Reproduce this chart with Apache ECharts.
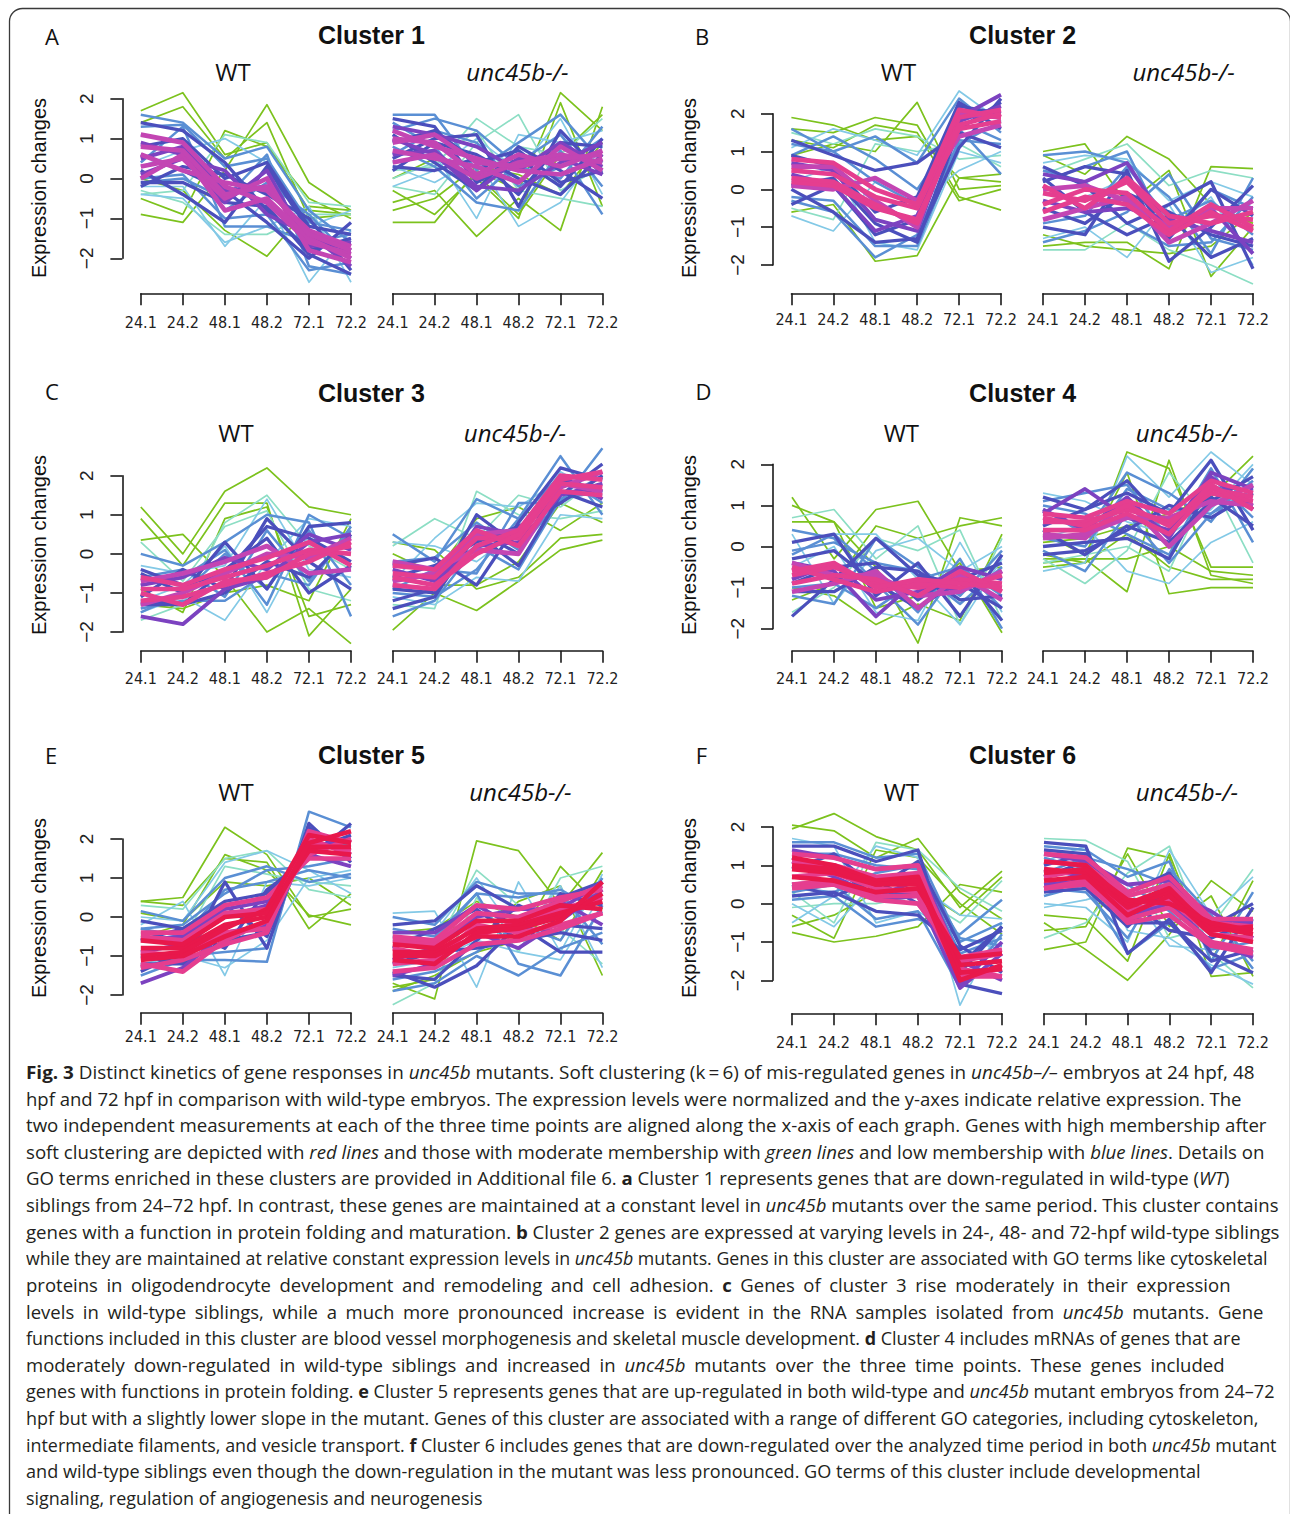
<!DOCTYPE html>
<html><head><meta charset="utf-8">
<script src="https://cdn.jsdelivr.net/npm/echarts@6/dist/echarts.min.js"></script>
<style>
html,body{margin:0;padding:0;background:#fff;}
#chart{position:absolute;left:0;top:0;width:1290px;height:1514px;}
#caption{position:absolute;left:0;top:0;width:1290px;height:1514px;pointer-events:none;font-family:"Open Sans","Noto Sans",sans-serif;font-size:17.5px;color:#231f20;}
.cl{position:absolute;left:25.5px;white-space:nowrap;transform-origin:0 50%;line-height:20px;}
.cl b{font-weight:700;}
</style></head><body>
<div id="chart"></div><div id="caption"></div>
<script>
// ---------------- DATA ----------------
const timePoints = ["24.1", "24.2", "48.1", "48.2", "72.1", "72.2"];
const clusterNames = ["Cluster 1", "Cluster 2", "Cluster 3", "Cluster 4", "Cluster 5", "Cluster 6"];
const panelLetters = ["A", "B", "C", "D", "E", "F"];
const conditionNames = ["WT", "unc45b-/-"];

// each row: [membership, 24.1, 24.2, 48.1, 48.2, 72.1, 72.2]
const cluster1WT = [
  [0.1, 1.7, 2.15, 0.6, 0.9, -0.8, -0.9],
  [0.1, -0.9, -1.1, 0.2, 1.85, -0.1, -0.8],
  [0.1, -0.5, -0.9, 1.2, 0.8, -0.5, -1.0],
  [0.1, 0.0, -0.3, -1.3, -1.95, -0.7, -0.8],
  [0.1, 1.4, 1.8, 0.5, 1.4, -1.0, -0.9],
  [0.25, -0.4, -0.3, 1.1, 0.9, -0.6, -0.7],
  [0.25, -0.3, -0.6, -1.4, -1.4, -0.9, -0.9],
  [0.35, -0.2, -0.2, -1.7, -0.5, -2.6, -1.3],
  [0.35, 0.3, 0.7, 1.0, 0.4, -1.2, -0.8],
  [0.35, -0.4, -0.5, -1.6, -1.2, -0.7, -2.6],
  [0.45, 1.6, 1.4, 0.5, 0.8, -0.8, -1.6],
  [0.45, 0.4, 1.3, -1.2, -1.2, -1.6, -1.4],
  [0.45, -0.1, 0.0, -0.5, 0.6, -2.2, -2.4],
  [0.45, 1.1, 0.9, -0.8, -0.1, -0.9, -2.0],
  [0.45, 1.3, 1.35, 0.3, 0.5, -1.1, -1.3],
  [0.45, 0.0, 0.1, -1.0, -0.9, -2.3, -2.1],
  [0.55, 0.2, -0.4, -1.1, 0.3, -1.3, -1.8],
  [0.55, 1.4, 1.2, 0.4, -0.8, -1.8, -1.5],
  [0.55, 0.6, 0.2, -0.3, -1.1, -2.0, -1.1],
  [0.55, -0.2, 0.3, 0.1, -0.4, -1.0, -2.3],
  [0.55, 0.8, 1.0, 0.0, 0.4, -1.2, -1.4],
  [0.55, -0.1, -0.1, -0.6, -0.7, -1.9, -2.4],
  [0.65, 0.9, 0.6, -0.6, 0.2, -1.7, -1.6],
  [0.65, 0.1, 0.5, 0.2, -0.9, -1.4, -2.2],
  [0.65, 0.5, 0.8, -0.3, -0.2, -1.5, -1.8],
  [0.75, 1.1, 0.9, -0.2, -0.6, -1.6, -1.9],
  [0.75, 0.3, 0.5, -0.5, 0.0, -1.8, -2.1],
  [0.75, 0.6, 0.2, -0.1, -0.3, -1.3, -1.7],
  [0.75, 0.0, 0.6, -0.8, -0.5, -1.5, -2.0],
  [0.75, 0.8, 0.7, -0.4, -0.2, -1.4, -1.8]
];
const cluster1Mut = [
  [0.1, -1.1, -1.1, 0.2, -0.3, 2.15, 1.2],
  [0.1, -0.6, -0.3, -1.45, -0.5, -1.3, 1.8],
  [0.1, -0.3, -0.9, 0.1, -0.9, 0.6, 1.6],
  [0.1, 0.0, 0.5, 0.0, -1.0, 1.9, -0.7],
  [0.1, -0.8, -0.5, 0.3, 0.1, -0.4, 0.9],
  [0.25, 0.2, 0.3, 1.5, 0.8, 0.6, 1.5],
  [0.25, -0.2, -0.4, 0.9, 1.6, -0.3, 0.3],
  [0.25, 0.0, 0.4, 1.2, -0.3, -0.5, -0.7],
  [0.35, 0.4, 0.6, -1.0, 1.1, 0.9, 1.2],
  [0.35, 0.3, -0.1, 0.5, -1.2, -0.6, 0.8],
  [0.35, -0.2, 0.2, 1.0, 0.2, 1.5, -0.4],
  [0.45, 1.6, 1.6, 0.2, 0.9, 1.6, 0.4],
  [0.45, 0.8, 0.3, -0.6, -0.8, 0.7, -0.9],
  [0.45, 1.2, 1.5, 1.2, 0.3, 0.0, 1.3],
  [0.45, 0.6, 1.2, 0.9, -0.2, 0.3, 1.0],
  [0.45, 1.4, 0.8, -0.5, 0.4, 1.1, -0.2],
  [0.55, 1.5, 1.3, -0.1, 0.5, -0.2, 1.0],
  [0.55, 0.5, 1.0, 1.1, -0.7, 1.2, 0.1],
  [0.55, 1.1, 0.4, -0.3, 0.8, 0.2, -0.5],
  [0.55, 0.2, 0.9, 0.6, 0.0, -0.4, 0.6],
  [0.55, 0.9, 1.2, 0.4, 0.7, -0.1, 0.2],
  [0.55, 0.3, 0.2, 0.5, -0.4, 0.9, 0.8],
  [0.65, 1.3, 1.1, 0.8, 0.2, 0.9, 0.3],
  [0.65, 0.6, 0.7, -0.2, -0.3, 0.4, 0.9],
  [0.65, 1.0, 0.6, -0.3, 0.5, 0.5, 0.1],
  [0.75, 1.0, 0.9, 0.1, 0.6, 0.3, 0.7],
  [0.75, 0.7, 0.5, 0.3, -0.1, 0.8, 0.2],
  [0.75, 1.2, 0.8, 0.5, 0.2, 0.1, 0.5],
  [0.75, 0.4, 0.6, 0.0, 0.4, 0.6, 0.4],
  [0.75, 0.9, 1.1, 0.4, 0.3, 0.5, 0.6]
];
const cluster2WT = [
  [0.1, 1.9, 1.7, 1.3, 1.4, 0.3, 0.2],
  [0.1, 1.6, 1.5, 1.9, 1.7, -0.2, -0.55],
  [0.1, 0.9, 1.2, 1.0, 2.3, 0.0, 0.1],
  [0.1, -0.6, -0.4, -1.9, -1.75, 0.3, 0.4],
  [0.1, 1.3, 1.1, 1.7, 1.5, -0.3, 0.0],
  [0.25, 1.5, 1.2, 1.6, 1.4, 0.8, 0.9],
  [0.25, -0.5, -0.8, 1.2, 1.0, 1.2, 0.6],
  [0.35, -0.7, -1.1, 0.2, -0.4, 0.5, 1.0],
  [0.35, 1.1, 1.6, 1.3, 0.9, 2.6, 1.8],
  [0.35, 0.2, 0.6, -1.4, -1.6, 1.0, 0.7],
  [0.45, 1.6, 1.0, 1.4, 0.7, 2.4, 1.5],
  [0.45, -0.3, -0.6, -1.8, -1.2, 1.3, 1.2],
  [0.45, 0.9, 1.4, 0.8, 0.0, 1.6, 0.4],
  [0.45, 1.2, 1.0, 0.2, -0.4, 1.8, 1.3],
  [0.45, -0.2, -0.3, -1.5, -1.5, 1.2, 1.8],
  [0.55, 0.0, -0.6, -1.4, -1.3, 1.1, 2.4],
  [0.55, 1.3, 0.9, 0.5, 0.7, 1.5, 1.1],
  [0.55, -0.4, 0.1, -1.2, -0.8, 2.2, 2.0],
  [0.55, 0.9, 0.6, -0.6, -0.2, 2.3, 1.6],
  [0.55, 0.1, 0.3, -0.9, -1.4, 1.6, 2.3],
  [0.65, 0.7, 0.5, -0.8, -1.1, 1.9, 2.5],
  [0.65, 0.4, 0.1, -1.1, -0.7, 1.8, 2.2],
  [0.75, 0.1, 0.0, 0.3, -0.3, 1.4, 1.7],
  [0.75, 0.6, 0.6, -0.3, -1.0, 2.0, 1.9],
  [0.85, 0.5, 0.4, -0.2, -0.5, 1.9, 2.1],
  [0.85, 0.2, 0.1, -0.5, -0.8, 1.6, 1.8],
  [0.85, 0.8, 0.7, 0.0, -0.4, 2.1, 1.9],
  [0.85, 0.3, 0.2, -0.4, -0.9, 1.7, 2.0]
];
const cluster2Mut = [
  [0.1, 1.0, 1.2, -0.4, 0.5, -2.3, -1.0],
  [0.1, -1.5, -1.4, -1.4, -2.1, 0.6, 0.55],
  [0.1, 0.9, 0.4, 1.4, 0.8, -0.4, -0.9],
  [0.1, -1.2, -1.5, -1.6, -1.7, -1.5, -0.6],
  [0.25, -1.6, -1.6, -0.9, -1.6, -2.0, -2.5],
  [0.25, 0.4, 0.8, 1.2, 0.1, 0.5, 0.3],
  [0.35, -1.3, -1.0, -1.8, -0.4, -2.2, -1.8],
  [0.35, 0.7, 0.9, 0.8, -0.3, 0.2, -0.2],
  [0.35, -0.6, -0.2, 0.3, -1.1, -0.2, -2.0],
  [0.45, 0.9, 1.0, 0.7, -0.2, -1.7, 0.3],
  [0.45, -1.4, -1.1, -0.6, 0.4, -1.3, -1.6],
  [0.45, 0.2, 0.6, 1.0, -1.2, 0.0, -0.5],
  [0.45, -0.9, -0.7, 0.6, -0.8, -0.3, -1.2],
  [0.45, 0.5, 0.2, -0.9, -1.5, -1.4, -0.2],
  [0.55, 0.6, 0.1, -0.9, -0.4, 0.2, -2.1],
  [0.55, -1.0, -1.2, 0.5, -1.9, -1.0, 0.1],
  [0.55, 0.3, -0.6, -1.2, -0.7, -1.8, -1.3],
  [0.55, -0.5, -0.9, -0.1, -0.6, -1.2, -1.5],
  [0.55, 0.2, 0.6, 0.4, -1.3, 0.0, -0.7],
  [0.65, 0.4, 0.2, 0.7, -1.0, -0.5, -1.7],
  [0.65, -0.3, -0.6, -0.5, -0.8, -1.1, -1.4],
  [0.75, -0.8, -0.5, -0.2, -1.4, -0.9, -0.3],
  [0.75, 0.0, 0.1, -0.3, -1.0, -0.5, -0.5],
  [0.85, -0.1, -0.3, 0.2, -0.9, -0.7, -0.8],
  [0.85, -0.4, 0.0, -0.1, -1.1, -0.4, -1.0],
  [0.85, 0.1, -0.5, 0.3, -0.7, -0.9, -0.6],
  [0.85, -0.6, -0.2, -0.4, -1.2, -0.6, -1.1]
];
const cluster3WT = [
  [0.1, 1.2, 0.0, 1.6, 2.2, 1.2, 1.0],
  [0.1, 0.9, -0.3, 1.3, 1.3, -2.1, -0.9],
  [0.1, 0.35, 0.5, -0.6, -2.0, -1.4, -2.3],
  [0.1, -0.9, -1.5, 0.9, 1.2, -1.6, -1.3],
  [0.1, -1.3, -1.4, -1.0, -0.8, -1.2, 0.9],
  [0.25, -1.7, -1.3, 0.8, 1.5, 0.2, -0.4],
  [0.25, 0.3, -0.7, 0.7, 1.1, -0.9, -1.2],
  [0.35, -1.5, -1.1, -1.7, -0.2, 0.9, 0.7],
  [0.35, -0.3, -0.5, -0.3, 1.4, -0.4, -0.6],
  [0.35, -1.2, -0.8, 0.2, -1.5, 0.5, 0.1],
  [0.45, 0.0, -0.3, 0.3, 1.0, 0.8, -1.6],
  [0.45, -1.4, -1.2, -1.2, -0.5, -0.8, 0.7],
  [0.45, -0.8, -0.6, 0.1, -1.3, 1.0, 0.4],
  [0.45, -0.6, -0.4, -1.1, 0.6, -0.7, 0.6],
  [0.45, -1.5, -1.0, 0.0, -0.9, 0.6, -0.8],
  [0.55, -1.1, -0.4, -0.9, 0.9, -0.2, -0.9],
  [0.55, -0.5, -1.0, 0.3, -0.9, 0.7, 0.8],
  [0.55, -1.3, -1.3, -0.4, 0.4, -1.0, -0.3],
  [0.55, -0.4, -0.8, -0.5, 0.7, 0.4, -0.2],
  [0.55, -1.2, -1.3, -1.0, -0.2, -0.6, 0.5],
  [0.65, -1.6, -1.8, -0.9, -0.6, 0.3, 0.5],
  [0.65, -0.8, -0.6, -0.1, -0.4, 0.5, 0.1],
  [0.75, -0.7, -0.5, -0.2, 0.2, -0.5, -0.4],
  [0.75, -1.3, -1.0, -0.5, 0.0, -0.1, 0.4],
  [0.85, -0.9, -0.9, -0.6, -0.3, 0.1, 0.0],
  [0.85, -1.2, -1.1, -0.8, -0.5, -0.2, 0.3],
  [0.85, -0.6, -0.8, -0.4, -0.1, 0.3, -0.3],
  [0.85, -1.0, -1.3, -0.7, -0.6, 0.0, 0.2]
];
const cluster3Mut = [
  [0.1, -1.95, -1.0, -1.45, -0.7, 0.1, 0.35],
  [0.1, 0.3, 0.1, -0.9, -0.6, 0.4, 0.5],
  [0.1, -0.6, -0.8, -0.8, -0.2, 1.3, 0.8],
  [0.1, 0.0, -0.5, 0.9, 1.2, 0.6, 1.3],
  [0.25, 0.2, 0.9, 0.4, 1.5, 1.2, 2.0],
  [0.25, -1.3, -1.4, 1.6, 1.0, 0.9, 1.1],
  [0.35, -0.7, 0.4, 1.3, 1.2, 1.9, 1.4],
  [0.35, -1.1, -1.3, -0.6, -0.7, 1.0, 0.9],
  [0.35, 0.3, 0.2, -0.2, 0.6, 2.1, 1.5],
  [0.45, -1.6, -1.2, 0.2, -0.4, 1.4, 2.0],
  [0.45, 0.5, -0.2, 1.4, 0.9, 2.5, 1.0],
  [0.45, -0.9, -0.4, -0.5, 1.3, 1.3, 2.7],
  [0.45, -0.2, -0.1, 0.8, 0.1, 1.4, 1.6],
  [0.45, -1.0, -1.1, -0.4, 0.9, 2.0, 1.3],
  [0.55, -1.2, -0.9, 1.0, 0.2, 1.6, 1.2],
  [0.55, -0.3, -0.1, -0.8, 0.8, 2.2, 1.9],
  [0.55, -1.4, -1.1, 0.5, -0.3, 1.5, 2.3],
  [0.55, -0.6, -0.3, 0.3, 0.7, 1.3, 2.0],
  [0.55, -0.9, -1.0, 0.6, 0.0, 1.9, 1.6],
  [0.65, -0.8, -0.9, 0.7, 0.5, 2.0, 1.4],
  [0.65, -0.4, -0.7, 0.2, 0.3, 1.5, 1.8],
  [0.75, -0.2, -0.4, 0.1, 0.0, 1.7, 2.1],
  [0.75, -0.7, -0.5, 0.5, 0.6, 1.8, 1.6],
  [0.85, -0.5, -0.6, 0.4, 0.4, 1.8, 1.7],
  [0.85, -0.8, -0.9, 0.2, 0.6, 2.0, 1.9],
  [0.85, -0.3, -0.4, 0.6, 0.2, 1.6, 1.5],
  [0.85, -0.6, -0.8, 0.0, 0.5, 1.9, 2.1]
];
const cluster4WT = [
  [0.1, 1.2, -0.3, 0.9, 1.1, -0.6, -0.5],
  [0.1, 1.0, 0.6, -0.5, -2.35, 0.7, 0.5],
  [0.1, -1.3, -0.9, 0.5, 0.2, 0.5, 0.7],
  [0.1, 0.6, 0.6, -1.5, -1.2, -0.4, -2.1],
  [0.1, -1.0, -1.2, -1.9, -1.4, -1.8, 0.3],
  [0.25, 0.7, 0.9, -0.3, 0.5, -1.9, 0.2],
  [0.25, -1.6, -1.0, 0.2, -0.1, 0.4, -1.8],
  [0.35, 0.3, -1.4, -0.1, 0.2, -0.6, 0.0],
  [0.35, -0.5, 0.0, -1.6, -1.8, 0.1, -1.6],
  [0.35, 0.1, 0.3, 0.3, -0.8, -1.9, -0.3],
  [0.45, 0.4, 0.2, -0.9, -1.9, -0.5, -1.2],
  [0.45, -1.2, -1.4, 0.2, -0.5, -1.2, -0.1],
  [0.45, -0.2, 0.3, -0.6, -1.6, -0.3, -2.0],
  [0.45, -0.1, 0.1, -0.4, -0.6, -1.4, -0.5],
  [0.45, -1.0, -0.9, -1.5, -0.8, -0.5, -1.5],
  [0.55, -1.7, -0.8, 0.2, -0.7, -0.9, -1.5],
  [0.55, 0.1, 0.3, -1.2, -0.4, -1.7, -0.2],
  [0.55, -0.9, -0.5, -0.4, -1.3, -0.6, -1.8],
  [0.55, -0.3, -0.1, -0.9, -1.5, -0.8, -0.4],
  [0.55, -1.1, -1.1, -0.5, -0.6, -1.3, -1.2],
  [0.65, -0.4, -0.6, -1.7, -0.8, -1.1, -0.6],
  [0.65, -0.8, -0.4, -1.3, -1.1, -0.5, -0.8],
  [0.75, -1.1, -0.9, -0.6, -1.5, -0.7, -1.3],
  [0.75, -0.4, -0.7, -0.7, -1.2, -1.1, -0.6],
  [0.85, -0.7, -0.5, -0.9, -1.0, -0.8, -0.9],
  [0.85, -0.5, -0.8, -1.1, -0.9, -1.0, -0.7],
  [0.85, -0.9, -0.7, -0.8, -1.2, -0.6, -1.1],
  [0.85, -0.6, -0.4, -1.0, -0.8, -0.9, -1.0]
];
const cluster4Mut = [
  [0.1, -0.5, -0.4, 2.3, 1.9, -0.5, -0.5],
  [0.1, -0.3, -0.3, -1.1, 2.1, -0.7, -0.9],
  [0.1, 0.3, -0.2, 1.8, -1.15, -1.0, -1.0],
  [0.1, -0.4, -0.3, -0.3, 0.0, -0.6, -0.7],
  [0.1, 0.1, 0.2, 0.5, 0.8, 1.2, 2.2],
  [0.1, -0.2, -0.4, 0.3, -0.5, -0.8, -0.8],
  [0.25, -0.3, -0.9, -0.1, 1.8, 0.6, 1.9],
  [0.25, -0.4, -0.2, 0.0, -0.6, 1.6, -0.4],
  [0.35, -0.6, -0.4, 2.2, 1.2, 2.3, 1.5],
  [0.35, 0.2, 0.5, -0.6, -0.9, 0.1, 0.6],
  [0.35, 1.3, 1.1, 0.6, 0.3, 0.9, 2.0],
  [0.45, 1.1, 1.3, 1.5, 0.2, 1.9, 0.1],
  [0.45, -0.1, -0.6, 0.8, -0.4, 0.8, 1.4],
  [0.45, 0.9, 0.3, 1.8, 1.3, 0.6, 1.9],
  [0.45, 0.2, 0.0, 1.4, 0.9, 0.8, 1.6],
  [0.45, 1.0, 0.8, 0.3, -0.2, 1.7, 0.7],
  [0.55, 0.0, 0.1, 0.2, -0.3, 1.5, 1.0],
  [0.55, 1.2, 0.9, 1.3, 0.8, 2.1, 0.4],
  [0.55, 0.4, -0.2, 0.5, 0.1, 1.1, 1.7],
  [0.55, 0.5, 0.9, 1.6, 0.5, 1.2, 0.5],
  [0.55, -0.2, -0.1, 0.4, 1.0, 0.7, 1.3],
  [0.65, 0.8, 1.4, 0.7, 0.4, 1.7, 0.9],
  [0.65, 0.9, 0.4, 1.2, 0.2, 1.8, 1.4],
  [0.75, 0.3, 0.2, 1.1, 0.0, 1.0, 1.5],
  [0.75, 0.2, 0.3, 0.7, 0.7, 1.1, 1.0],
  [0.85, 0.6, 0.6, 0.9, 0.6, 1.3, 1.1],
  [0.85, 0.8, 0.7, 1.1, 0.8, 1.6, 1.3],
  [0.85, 0.4, 0.4, 0.8, 0.3, 1.4, 1.2],
  [0.85, 0.7, 0.5, 1.0, 0.5, 1.5, 0.9]
];
const cluster5WT = [
  [0.1, 0.4, 0.5, 2.3, 1.6, 0.0, 0.2],
  [0.1, 0.4, 0.3, 1.5, 1.4, -0.3, 0.6],
  [0.1, -0.5, -0.2, 1.6, 1.2, 0.05, -0.2],
  [0.1, 0.1, -0.1, 0.9, 0.8, 1.0, 0.3],
  [0.25, 0.3, 0.2, 1.5, 1.7, 0.7, 0.5],
  [0.25, -0.4, -0.6, 1.3, 1.1, 0.9, 0.8],
  [0.35, -0.2, 0.4, -1.5, 0.9, 0.8, 1.0],
  [0.35, 0.0, -0.1, 1.4, 1.7, 1.2, 0.6],
  [0.35, -1.2, -1.0, -1.3, -0.6, 1.0, 1.2],
  [0.45, 0.15, -0.1, 1.0, 1.3, 0.9, 1.1],
  [0.45, -1.5, -1.1, -1.1, -1.15, 2.7, 2.3],
  [0.45, -0.3, -0.2, 0.6, 1.2, 1.3, 1.5],
  [0.45, -0.3, -0.5, 0.7, 0.9, 1.2, 1.0],
  [0.45, -1.3, -1.0, -0.9, -0.8, 2.2, 1.8],
  [0.55, -1.0, -1.2, 0.9, -0.8, 2.4, 1.4],
  [0.55, -0.1, -0.3, -0.8, 0.7, 1.5, 2.4],
  [0.55, -1.4, -0.9, 0.3, -0.5, 2.0, 1.6],
  [0.55, -0.6, -0.3, 0.4, 0.6, 1.7, 2.1],
  [0.55, -1.2, -1.2, -0.6, -0.4, 2.3, 1.5],
  [0.65, -1.7, -1.3, -0.4, -0.2, 2.1, 1.9],
  [0.65, -0.6, -0.5, 0.2, 0.4, 1.6, 1.3],
  [0.65, -0.9, -0.7, 0.0, 0.3, 1.8, 2.0],
  [0.85, -0.9, -1.0, -0.4, -0.3, 1.9, 1.7],
  [0.85, -0.5, -0.6, 0.1, 0.2, 1.6, 2.0],
  [0.85, -1.2, -1.4, -0.6, -0.1, 2.0, 1.6],
  [0.85, -1.3, -1.1, -0.7, -0.4, 2.2, 1.9],
  [0.85, -0.4, -0.4, 0.3, 0.5, 1.5, 1.5],
  [0.95, -0.8, -0.8, -0.2, 0.0, 1.8, 1.8],
  [0.95, -1.0, -0.9, -0.3, 0.2, 2.1, 1.9],
  [0.95, -0.6, -0.7, 0.0, 0.1, 1.7, 1.6],
  [0.95, -1.1, -1.0, -0.5, -0.1, 1.9, 2.2]
];
const cluster5Mut = [
  [0.1, -1.7, -2.1, 1.95, 1.7, 0.3, 1.65],
  [0.1, -1.9, -1.5, -0.9, -0.6, 1.3, 0.2],
  [0.1, -1.8, -1.6, -0.6, 0.4, 0.8, -1.5],
  [0.1, -0.4, -0.3, 0.4, 0.0, -0.6, 1.2],
  [0.25, -2.25, -1.7, 0.5, -0.9, 1.0, 1.3],
  [0.25, -1.0, -0.8, 1.2, 0.3, -0.3, -1.2],
  [0.35, 0.1, 0.15, -1.8, 0.9, -0.9, 1.1],
  [0.35, -0.6, -0.4, 1.0, -0.5, 0.8, -1.3],
  [0.35, -1.3, -1.1, -0.6, -0.9, -1.1, 0.6],
  [0.45, 0.0, -0.2, 0.9, 0.6, 0.6, -0.7],
  [0.45, -1.9, -1.7, -1.0, -1.5, -0.8, -0.4],
  [0.45, -0.5, -0.6, 0.6, -1.2, -1.5, 0.3],
  [0.45, -0.3, -0.5, 0.6, 0.5, 0.7, 0.1],
  [0.45, -1.6, -1.4, -0.9, -0.2, -0.6, 1.0],
  [0.55, -1.4, -1.8, -1.25, -0.2, -0.9, -0.9],
  [0.55, -0.2, -0.1, 0.8, 0.2, 0.5, 0.9],
  [0.55, -1.2, -0.9, -0.8, -0.6, -0.4, -0.6],
  [0.55, -0.8, -0.3, 0.2, -0.6, 0.6, 0.3],
  [0.55, -1.5, -1.6, -0.6, 0.3, -0.2, -0.3],
  [0.65, -1.5, -1.2, -0.4, -0.8, -0.1, 0.7],
  [0.65, -0.4, -0.4, 0.3, -0.3, 0.4, -0.2],
  [0.65, -1.1, -0.8, 0.0, 0.2, 0.2, 0.9],
  [0.85, -0.8, -1.0, -0.5, -0.1, 0.2, 0.5],
  [0.85, -1.2, -1.1, -0.2, -0.4, -0.2, 0.1],
  [0.85, -0.6, -0.7, 0.1, 0.0, 0.4, 0.8],
  [0.85, -1.4, -1.3, -0.7, -0.6, -0.3, 0.1],
  [0.85, -0.5, -0.6, 0.3, 0.2, 0.5, 0.7],
  [0.95, -0.9, -0.9, -0.3, -0.2, 0.1, 0.4],
  [0.95, -1.1, -1.2, -0.4, -0.3, 0.0, 0.6],
  [0.95, -0.7, -0.8, -0.1, -0.1, 0.3, 0.2],
  [0.95, -1.0, -1.0, -0.5, -0.5, -0.1, 0.9]
];
const cluster6WT = [
  [0.1, 2.05, 1.9, 1.2, 1.7, 0.3, -0.4],
  [0.1, 1.95, 2.35, 1.75, 1.4, -0.1, 0.85],
  [0.1, -0.75, -1.0, -0.85, -0.6, 0.5, 0.3],
  [0.1, -0.6, -0.3, 0.3, 0.4, -0.3, 0.7],
  [0.1, -0.3, -0.9, 1.4, 1.2, 0.0, -0.8],
  [0.25, 0.3, -0.5, 1.6, 1.4, 0.4, -0.2],
  [0.25, -0.1, 0.0, 0.0, 0.2, -0.5, 0.6],
  [0.35, -0.5, 0.2, 1.5, 1.2, -2.65, -0.5],
  [0.35, 1.7, 1.5, -0.5, -0.2, -0.9, -1.2],
  [0.35, 0.0, -0.6, 0.6, 0.5, -0.3, -0.4],
  [0.45, 1.6, 1.6, 1.2, 1.3, -1.0, -0.5],
  [0.45, 0.1, 0.2, -0.6, -0.4, -0.8, 0.1],
  [0.45, 0.4, 0.3, 0.8, 1.0, -1.3, -0.9],
  [0.45, 1.3, 1.3, 1.0, 0.9, -0.9, -1.1],
  [0.45, 0.3, 0.5, -0.4, -0.2, -2.2, -0.8],
  [0.55, 1.5, 1.5, 1.1, 1.4, -2.1, -2.35],
  [0.55, 0.2, 0.3, -0.2, -0.3, -1.2, -0.7],
  [0.55, 1.2, 0.9, 0.2, 0.3, -1.8, -0.6],
  [0.55, 0.9, 1.3, 0.4, 1.1, -1.1, -1.8],
  [0.55, 0.5, 0.2, 0.6, 0.0, -1.6, -0.6],
  [0.65, 0.5, 0.6, 0.1, 0.2, -2.2, -1.3],
  [0.65, 1.4, 1.2, 0.9, 1.0, -1.5, -2.0],
  [0.65, 1.1, 0.7, 0.2, 0.6, -2.1, -1.0],
  [0.85, 0.7, 0.8, 0.4, 0.3, -1.9, -1.7],
  [0.85, 1.1, 1.0, 0.7, 0.8, -1.5, -1.3],
  [0.85, 0.5, 0.6, 0.2, 0.2, -1.7, -1.9],
  [0.85, 1.3, 1.2, 0.9, 1.0, -1.9, -1.9],
  [0.85, 0.4, 0.5, 0.1, 0.0, -1.4, -1.2],
  [0.95, 0.9, 0.8, 0.5, 0.5, -1.6, -1.5],
  [0.95, 1.2, 1.0, 0.6, 0.7, -1.8, -1.7],
  [0.95, 0.7, 0.6, 0.3, 0.4, -1.4, -1.3],
  [0.95, 1.0, 0.9, 0.5, 0.6, -2.0, -1.6]
];
const cluster6Mut = [
  [0.1, -1.2, -1.0, 1.45, 1.2, -1.9, -1.8],
  [0.1, -0.5, -1.2, -2.0, -0.8, 0.6, -0.2],
  [0.1, -0.3, -0.4, -1.5, 1.3, -1.5, 0.6],
  [0.1, -0.7, -0.6, 1.3, -0.6, 0.2, -1.9],
  [0.25, 1.7, 1.65, 1.1, -0.9, -0.6, 0.9],
  [0.25, -0.9, -0.5, 0.8, 1.5, -1.3, -2.2],
  [0.35, 0.0, -0.1, -1.0, 1.4, -0.3, 0.7],
  [0.35, 1.1, 1.5, -0.7, -0.9, -1.6, -2.1],
  [0.35, -0.1, 0.1, 0.4, -1.1, -1.2, -0.4],
  [0.45, 1.5, 1.4, 0.7, 1.1, -1.5, 0.3],
  [0.45, 0.2, 0.5, -1.3, -0.5, -1.7, -1.3],
  [0.45, 0.8, 1.2, 0.9, 0.5, -0.3, -1.7],
  [0.45, 1.2, 0.9, 0.5, -0.2, -1.2, -1.0],
  [0.45, 0.4, 0.3, -0.9, 0.9, -0.3, -1.5],
  [0.55, 1.6, 1.5, -1.3, -0.4, -1.8, -0.1],
  [0.55, 0.3, 0.4, -0.6, 0.4, -1.3, -1.8],
  [0.55, 1.0, 1.3, 0.1, -0.7, -0.9, -0.4],
  [0.55, 0.7, 1.1, 0.3, 0.8, -0.6, 0.0],
  [0.55, 1.4, 1.3, -0.5, -0.5, -1.5, -1.2],
  [0.65, 0.5, 0.6, -0.3, 0.0, -1.0, -1.4],
  [0.65, 1.3, 1.1, 0.5, 0.6, -0.4, -0.5],
  [0.65, 0.9, 0.7, 0.0, 0.3, -0.2, -0.9],
  [0.85, 0.7, 0.9, -0.2, 0.1, -0.8, -0.9],
  [0.85, 1.1, 1.0, 0.2, 0.5, -0.5, -0.6],
  [0.85, 0.4, 0.5, -0.4, -0.1, -1.0, -1.2],
  [0.85, 1.3, 1.2, 0.3, 0.7, -0.4, -0.4],
  [0.85, 0.4, 0.6, -0.5, -0.3, -1.1, -1.3],
  [0.95, 0.9, 0.8, -0.1, 0.3, -0.6, -0.8],
  [0.95, 1.1, 1.0, 0.0, 0.4, -0.7, -0.6],
  [0.95, 0.6, 0.7, -0.3, 0.2, -0.8, -1.0],
  [0.95, 0.8, 0.9, 0.1, 0.0, -0.5, -0.7]
];

const captionLines = [
  '<b>Fig. 3</b> Distinct kinetics of gene responses in <i>unc45b</i> mutants. Soft clustering (k\u2009=\u20096) of mis-regulated genes in <i>unc45b–/–</i> embryos at 24 hpf, 48',
  'hpf and 72 hpf in comparison with wild-type embryos. The expression levels were normalized and the y-axes indicate relative expression. The',
  'two independent measurements at each of the three time points are aligned along the x-axis of each graph. Genes with high membership after',
  'soft clustering are depicted with <i>red lines</i> and those with moderate membership with <i>green lines</i> and low membership with <i>blue lines</i>. Details on',
  'GO terms enriched in these clusters are provided in Additional file 6. <b>a</b> Cluster 1 represents genes that are down-regulated in wild-type (<i>WT</i>)',
  'siblings from 24–72 hpf. In contrast, these genes are maintained at a constant level in <i>unc45b</i> mutants over the same period. This cluster contains',
  'genes with a function in protein folding and maturation. <b>b</b> Cluster 2 genes are expressed at varying levels in 24-, 48- and 72-hpf wild-type siblings',
  'while they are maintained at relative constant expression levels in <i>unc45b</i> mutants. Genes in this cluster are associated with GO terms like cytoskeletal',
  'proteins in oligodendrocyte development and remodeling and cell adhesion. <b>c</b> Genes of cluster 3 rise moderately in their expression',
  'levels in wild-type siblings, while a much more pronounced increase is evident in the RNA samples isolated from <i>unc45b</i> mutants. Gene',
  'functions included in this cluster are blood vessel morphogenesis and skeletal muscle development. <b>d</b> Cluster 4 includes mRNAs of genes that are',
  'moderately down-regulated in wild-type siblings and increased in <i>unc45b</i> mutants over the three time points. These genes included',
  'genes with functions in protein folding. <b>e</b> Cluster 5 represents genes that are up-regulated in both wild-type and <i>unc45b</i> mutant embryos from 24–72',
  'hpf but with a slightly lower slope in the mutant. Genes of this cluster are associated with a range of different GO categories, including cytoskeleton,',
  'intermediate filaments, and vesicle transport. <b>f</b> Cluster 6 includes genes that are down-regulated over the analyzed time period in both <i>unc45b</i> mutant',
  'and wild-type siblings even though the down-regulation in the mutant was less pronounced. GO terms of this cluster include developmental',
  'signaling, regulation of angiogenesis and neurogenesis'
];

// ---------------- LAYOUT / STYLE ----------------
const captionLineEnds = [1254,1241,1266,1264,1229,1278,1279,1267,1230,1263,1240,1224,1274,1258,1276,1200,482];
const captionJustified = [8, 9, 11];
const L = {
  A:{wt:[140.8,351.0], mut:[392.7,602.4], yx:122.4, y2:98.7, ym2:258.3, ax:293.3, lblY:322,
     letter:[52,36], cluster:[371.4,35], wtT:[233,71], mutT:[517.5,71], ylab:[38.8,188]},
  B:{wt:[791.4,1001.0], mut:[1043.0,1253.0], yx:773.0, y2:113.7, ym2:265.0, ax:293.3, lblY:319,
     letter:[702,36], cluster:[1022.6,35], wtT:[898.5,71], mutT:[1183.6,71], ylab:[689,188]},
  C:{wt:[140.8,351.0], mut:[392.7,602.4], yx:122.4, y2:475.7, ym2:632.0, ax:650.7, lblY:678,
     letter:[52,391], cluster:[371.4,392.5], wtT:[236,432.5], mutT:[515,432.5], ylab:[38.5,545]},
  D:{wt:[792.0,1002.0], mut:[1043.0,1253.0], yx:773.0, y2:464.3, ym2:628.7, ax:650.7, lblY:678,
     letter:[703.5,391], cluster:[1022.6,392.5], wtT:[901.4,432.5], mutT:[1187,432.5], ylab:[689,545]},
  E:{wt:[140.8,351.0], mut:[392.7,602.4], yx:122.4, y2:839.0, ym2:995.0, ax:1012.7, lblY:1036,
     letter:[51,755], cluster:[371.4,755], wtT:[236,791], mutT:[520.4,791], ylab:[38.5,908]},
  F:{wt:[792.0,1002.0], mut:[1044.0,1253.0], yx:773.0, y2:827.0, ym2:980.3, ax:1013.3, lblY:1042.7,
     letter:[701.4,755], cluster:[1022.6,755], wtT:[901.4,791], mutT:[1187,791], ylab:[689,908]}
};
const panelData = [
  [cluster1WT, cluster1Mut], [cluster2WT, cluster2Mut], [cluster3WT, cluster3Mut],
  [cluster4WT, cluster4Mut], [cluster5WT, cluster5Mut], [cluster6WT, cluster6Mut]
];
const palette = [
  [0.15, '#7cc21d'], [0.3, '#8cdec4'], [0.4, '#83c9e6'], [0.5, '#5a8fd4'],
  [0.6, '#4b4fbc'], [0.7, '#7c42c0'], [0.8, '#c345b3'], [0.9, '#e53e8f'], [1.01, '#e8184b']
];
function colorFor(m){ for (const [t,c] of palette) if (m < t) return c; return '#e8184b'; }
function widthFor(m){ if (m < 0.4) return 1.7; if (m < 0.5) return 2.5; if (m < 0.6) return 3.3; if (m < 0.7) return 3.8; return 4.7; }

const axisColor = '#1a1a1a';
const narrowFont = '"Liberation Sans Narrow","Arial Narrow","DejaVu Sans Condensed",sans-serif';
const grid = [], xAxis = [], yAxis = [], series = [], graphic = [];

panelLetters.forEach((letter, pi) => {
  const g = L[letter];
  const s = (g.ym2 - g.y2) / 4, y0 = g.y2 + 2 * s;
  const yMax = 3.4, yMin = -(g.ax - y0) / s;
  ['wt', 'mut'].forEach((side, si) => {
    const idx = grid.length;
    const [x0, x1] = g[side];
    const top = y0 - yMax * s;
    grid.push({ left: x0, top: top, width: x1 - x0, height: g.ax - top });
    xAxis.push({
      gridIndex: idx, type: 'category', data: timePoints, boundaryGap: false,
      axisLine: { onZero: false, lineStyle: { color: axisColor, width: 1.6 } },
      axisTick: { length: 12, interval: 0, lineStyle: { color: axisColor, width: 1.6 } },
      axisLabel: { interval: 0, margin: g.lblY - g.ax - 8, fontSize: 16, fontFamily: narrowFont, color: '#222' },
      splitLine: { show: false }
    });
    yAxis.push({ gridIndex: idx, type: 'value', min: yMin, max: yMax, show: false });
    const rows = panelData[pi][si].slice().sort((a, b) => a[0] - b[0]);
    rows.forEach(r => {
      series.push({
        type: 'line', xAxisIndex: idx, yAxisIndex: idx, data: r.slice(1),
        symbol: 'none', showSymbol: false, silent: true, animation: false,
        lineStyle: { color: colorFor(r[0]), width: widthFor(r[0]), join: 'round' }
      });
    });
  });
  const idx = grid.length;
  grid.push({ left: g.yx, top: g.y2, width: 20, height: g.ym2 - g.y2 });
  xAxis.push({ gridIndex: idx, type: 'value', show: false });
  yAxis.push({
    gridIndex: idx, type: 'value', min: -2, max: 2, interval: 1, position: 'left',
    axisLine: { show: true, lineStyle: { color: axisColor, width: 1.6 } },
    axisTick: { show: true, length: 12, lineStyle: { color: axisColor, width: 1.6 } },
    axisLabel: { rotate: 90, margin: 26, fontSize: 19, fontFamily: '"Liberation Sans",Arial,sans-serif', color: '#222',
      formatter: v => (v < 0 ? '\u2212' + Math.abs(v) : String(v)) },
    splitLine: { show: false }
  });
  const t = (pos, text, font, extra) => graphic.push(Object.assign({
    type: 'text', x: pos[0], y: pos[1], silent: true,
    style: { text: text, font: font, fill: '#111', align: 'center', verticalAlign: 'middle' }
  }, extra || {}));
  t(g.letter, letter, '22px "Open Sans", sans-serif');
  t(g.cluster, clusterNames[pi], 'bold 25px "Liberation Sans", Arial, sans-serif');
  t(g.wtT, conditionNames[0], '24px "Open Sans", sans-serif');
  t(g.mutT, conditionNames[1], 'italic 24px "Open Sans", sans-serif');
  t(g.ylab, 'Expression changes', '20px "Liberation Sans", Arial, sans-serif', { rotation: Math.PI / 2 });
});

graphic.push({
  type: 'rect', silent: true, z: -1,
  shape: { x: 9.5, y: 8.5, width: 1281, height: 1540, r: [13, 13, 0, 0] },
  style: { fill: 'none', stroke: '#3a3a3a', lineWidth: 1.3 }
});

const chart = echarts.init(document.getElementById('chart'), null, { renderer: 'svg', width: 1290, height: 1514 });
chart.setOption({ animation: false, grid, xAxis, yAxis, series, graphic });

// ---------------- CAPTION ----------------
const cap = document.getElementById('caption');
const els = captionLines.map((h, i) => {
  const d = document.createElement('div');
  d.className = 'cl'; d.innerHTML = h;
  d.style.top = (1073 + i * 26.62 - 11) + 'px';
  cap.appendChild(d); return d;
});
const nat = els.map(d => d.getBoundingClientRect().width);
const scales = els.map((d, i) => (captionLineEnds[i] - 25.5) / nat[i]);
const plain = scales.filter((v, i) => captionJustified.indexOf(i) < 0).sort((a, b) => a - b);
const medScale = plain[Math.floor(plain.length / 2)];
els.forEach((d, i) => {
  if (captionJustified.indexOf(i) >= 0) {
    const target = (captionLineEnds[i] - 25.5) / medScale;
    const spaces = (d.textContent.match(/ /g) || []).length;
    d.style.wordSpacing = ((target - nat[i]) / spaces) + 'px';
    d.style.transform = 'scaleX(' + medScale + ')';
  } else {
    d.style.transform = 'scaleX(' + scales[i] + ')';
  }
});
</script>
</body></html>
